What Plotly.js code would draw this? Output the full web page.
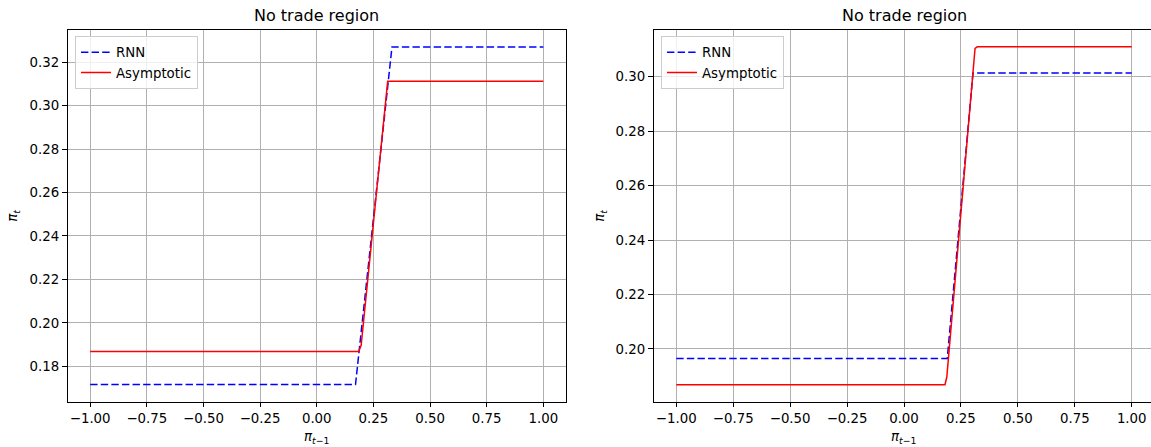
<!DOCTYPE html>
<html>
<head>
<meta charset="utf-8">
<script src="https://cdn.plot.ly/plotly-3.0.1.min.js"></script>
<style>
html, body { margin: 0; padding: 0; overflow: hidden; background: #fff; }
#plot { width: 1156px; height: 447px; }
</style>
</head>
<body>
<div id="plot"></div>
<script>
// ---- Data ----
// Left panel
const leftRnnX   = [-1.0, 0.171, 0.332, 1.0];
const leftRnnY   = [0.1716, 0.1716, 0.3270, 0.3270];
const leftAsyX   = [-1.0, 0.185, 0.196, 0.313, 1.0];
const leftAsyY   = [0.1868, 0.1868, 0.1897, 0.3112, 0.3112];
// Right panel
const rightRnnX  = [-1.0, 0.190, 0.303, 1.0];
const rightRnnY  = [0.1965, 0.1965, 0.3014, 0.3014];
const rightAsyX  = [-1.0, 0.180, 0.188, 0.305, 0.312, 0.322, 1.0];
const rightAsyY  = [0.1869, 0.1869, 0.1897, 0.3030, 0.3104, 0.3110, 0.3110];

const xTickVals  = [-1.0, -0.75, -0.5, -0.25, 0.0, 0.25, 0.5, 0.75, 1.0];
const leftYTicks = [0.18, 0.20, 0.22, 0.24, 0.26, 0.28, 0.30, 0.32];
const rightYTicks= [0.20, 0.22, 0.24, 0.26, 0.28, 0.30];

const panelTitle = 'No trade region';
const seriesNames = ['RNN', 'Asymptotic'];

// ---- Layout geometry ----
const W = 1156, H = 447;
const FONT = 'DejaVu Sans, sans-serif';
const fs = 13.33;
const dom = {
  x1: [67.5 / W, 566 / W],
  x2: [653.5 / W, 1154.5 / W],
  y:  [1 - 401.5 / H, 1 - 30 / H]
};

const rnnLine = {color: '#0000ff', width: 1.5, dash: '7.4px,3.2px'};
const asyLine = {color: '#ff0000', width: 1.5};

const traces = [
  {x: leftRnnX, y: leftRnnY, name: seriesNames[0], mode: 'lines', line: rnnLine, xaxis: 'x', yaxis: 'y', legend: 'legend'},
  {x: leftAsyX, y: leftAsyY, name: seriesNames[1], mode: 'lines', line: asyLine, xaxis: 'x', yaxis: 'y', legend: 'legend'},
  {x: rightRnnX, y: rightRnnY, name: seriesNames[0], mode: 'lines', line: rnnLine, xaxis: 'x2', yaxis: 'y2', legend: 'legend2'},
  {x: rightAsyX, y: rightAsyY, name: seriesNames[1], mode: 'lines', line: asyLine, xaxis: 'x2', yaxis: 'y2', legend: 'legend2'}
];

function xAxis(domain, anchor) {
  return {
    domain: domain, anchor: anchor, range: [-1.1, 1.1],
    tickmode: 'array', tickvals: xTickVals, tickformat: '.2f',
    showgrid: true, gridcolor: '#b0b0b0', gridwidth: 1, zeroline: false,
    showline: true, linecolor: '#000', linewidth: 1, mirror: true,
    ticks: 'outside', ticklen: 4.7, tickwidth: 1, tickcolor: '#000',
    tickfont: {family: FONT, size: fs, color: '#000'}
  };
}
function yAxis(domain, anchor, range, ticks) {
  return {
    domain: domain, anchor: anchor, range: range,
    tickmode: 'array', tickvals: ticks, tickformat: '.2f',
    showgrid: true, gridcolor: '#b0b0b0', gridwidth: 1, zeroline: false,
    showline: true, linecolor: '#000', linewidth: 1, mirror: true,
    ticks: 'outside', ticklen: 4.7, tickwidth: 1, tickcolor: '#000',
    tickfont: {family: FONT, size: fs, color: '#000'}
  };
}

function legendAt(px) {
  return {
    x: px / W, y: 1 - 36 / H, xanchor: 'left', yanchor: 'top',
    bgcolor: 'rgba(255,255,255,0.8)', bordercolor: '#cccccc', borderwidth: 1,
    font: {family: FONT, size: fs, color: '#000'}, itemwidth: 30, tracegroupgap: 0
  };
}

const cx1 = (dom.x1[0] + dom.x1[1]) / 2;
const cx2 = (dom.x2[0] + dom.x2[1]) / 2;
const midY = (dom.y[0] + dom.y[1]) / 2;

const annotations = [
  {text: panelTitle, x: cx1, y: dom.y[1], xref: 'paper', yref: 'paper', xanchor: 'center', yanchor: 'bottom', yshift: 3, showarrow: false, font: {family: FONT, size: 16, color: '#000'}},
  {text: panelTitle, x: 1 - 0 + (cx2 - 1), y: dom.y[1], xref: 'paper', yref: 'paper', xanchor: 'center', yanchor: 'bottom', yshift: 3, showarrow: false, font: {family: FONT, size: 16, color: '#000'}},
  {text: '<i>π</i><sub><i>t</i>−1</sub>', x: cx1, y: 1 - 437 / H, xref: 'paper', yref: 'paper', xanchor: 'center', yanchor: 'middle', showarrow: false, font: {family: FONT, size: fs, color: '#000'}},
  {text: '<i>π</i><sub><i>t</i>−1</sub>', x: cx2, y: 1 - 437 / H, xref: 'paper', yref: 'paper', xanchor: 'center', yanchor: 'middle', showarrow: false, font: {family: FONT, size: fs, color: '#000'}},
  {text: '<i>π</i><sub><i>t</i></sub>', x: 14 / W, y: midY, xref: 'paper', yref: 'paper', xanchor: 'center', yanchor: 'middle', textangle: -90, showarrow: false, font: {family: FONT, size: fs, color: '#000'}},
  {text: '<i>π</i><sub><i>t</i></sub>', x: 601 / W, y: midY, xref: 'paper', yref: 'paper', xanchor: 'center', yanchor: 'middle', textangle: -90, showarrow: false, font: {family: FONT, size: fs, color: '#000'}}
];

const layout = {
  width: W, height: H,
  margin: {l: 0, r: 0, t: 0, b: 0},
  paper_bgcolor: '#fff', plot_bgcolor: '#fff',
  font: {family: FONT, size: fs, color: '#000'},
  showlegend: true,
  xaxis: xAxis(dom.x1, 'y'),
  yaxis: yAxis(dom.y, 'x', [0.1638, 0.3348], leftYTicks),
  xaxis2: xAxis(dom.x2, 'y2'),
  yaxis2: yAxis(dom.y, 'x2', [0.1807, 0.3172], rightYTicks),
  legend: legendAt(75),
  legend2: legendAt(661),
  annotations: annotations
};

Plotly.newPlot('plot', traces, layout, {staticPlot: true, displayModeBar: false});
</script>
</body>
</html>
